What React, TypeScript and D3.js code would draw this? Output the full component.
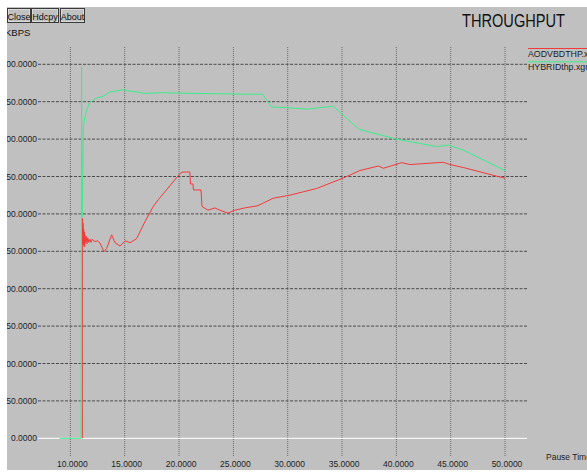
import React from 'react';
import * as d3 from 'd3';

// pause time (x) vs throughput in KBPS (y)
const hybridThp: [number, number][] = [
  [9.0, 0], [10.98, 0], [11.03, 497], [11.07, 296], [11.12, 330], [11.19, 416],
  [11.34, 430], [11.5, 439], [11.8, 449], [12.1, 452], [12.4, 455], [13.0, 457],
  [13.6, 463], [14.1, 464], [14.8, 466], [15.5, 464], [16.1, 463], [16.9, 461],
  [18.3, 462], [21.9, 461], [26.5, 460], [27.7, 460], [28.5, 443], [30.0, 442],
  [31.8, 440], [34.2, 444], [35.1, 432], [36.6, 413], [40.0, 400], [43.7, 390],
  [44.8, 392], [46.2, 385], [50.0, 358],
];

const aodvThp: [number, number][] = [
  [11.1, 0], [11.1, 294], [11.13, 262], [11.16, 288], [11.19, 258], [11.22, 280],
  [11.25, 262], [11.28, 276], [11.31, 256], [11.34, 272], [11.4, 262], [11.46, 270],
  [11.52, 260], [11.6, 268], [11.7, 262], [11.8, 266], [11.9, 262], [12.0, 266],
  [12.26, 263], [12.5, 264], [12.72, 261], [13.09, 249.5], [13.34, 254], [13.8, 272],
  [14.1, 261.5], [14.57, 257], [15.03, 264], [15.49, 261.5], [16.1, 267], [16.87, 290],
  [17.63, 310], [18.09, 319], [20.09, 354], [20.36, 356], [21.0, 356], [21.05, 340],
  [21.28, 340], [21.33, 332], [22.02, 332], [22.11, 310], [22.66, 305], [23.3, 308],
  [23.76, 305], [24.5, 301], [25.14, 305], [26.06, 308], [27.26, 311], [28.67, 321],
  [30.2, 325], [32.67, 334], [35.12, 348], [36.65, 358], [38.34, 364], [38.8, 361],
  [40.49, 368.5], [41.26, 366], [44.32, 369], [44.94, 366], [46.16, 362], [50.0, 347.6],
];

const xTicks = [10, 15, 20, 25, 30, 35, 40, 45, 50];
const yTicks = [0, 50, 100, 150, 200, 250, 300, 350, 400, 450, 500];
const buttons = ['Close', 'Hdcpy', 'About'];
const legend = [
  { name: 'AODVBDTHP.xg', color: '#f23a3a' },
  { name: 'HYBRIDthp.xgr', color: '#3bee8a' },
];

const W = 587;
const H = 472;
const font = '"Liberation Sans", Arial, sans-serif';

export default function App() {
  const x = d3.scaleLinear().domain([10, 50]).range([70.4, 505]);
  const y = d3.scaleLinear().domain([0, 500]).range([438.3, 64.3]);
  const line = d3.line<[number, number]>().x((d) => x(d[0])).y((d) => y(d[1]));
  const fmt = (v: number) => v.toFixed(4);

  const btnX = [7, 31, 60];
  const btnW = [23, 27, 24];

  return (
    <svg width={W} height={H} style={{ position: 'absolute', left: 0, top: 0, background: '#fff' }}>
      <defs>
        <clipPath id="win">
          <rect x={7} y={7} width={W - 7} height={463} />
        </clipPath>
      </defs>
      <g clipPath="url(#win)" fontFamily={font}>
        <rect x={7} y={7} width={W - 7} height={463} fill="#c0c0c0" />

        {/* buttons */}
        {buttons.map((b, i) => (
          <g key={b}>
            <rect x={btnX[i] + 0.5} y={8.5} width={btnW[i]} height={14} fill="#c0c0c0" stroke="#3a3a3a" />
            <rect x={btnX[i] + 1.5} y={9.5} width={btnW[i] - 2} height={12} fill="none" stroke="#e8e8e8" strokeWidth={0.6} />
            <text x={btnX[i] + btnW[i] / 2 + 0.5} y={19.5} fontSize={9} textAnchor="middle" fill="#111">{b}</text>
          </g>
        ))}

        <text x={5} y={36} fontSize={9.5} fill="#111">KBPS</text>
        <text x={462} y={27} fontSize={18} fill="#111" textLength={103} lengthAdjust="spacingAndGlyphs">THROUGHPUT</text>

        {/* vertical grid */}
        {xTicks.map((t) => (
          <line key={'vx' + t} x1={x(t)} x2={x(t)} y1={47} y2={457} stroke="#6a6a6a" strokeDasharray="1,1" strokeWidth={1} />
        ))}
        {/* horizontal grid, the zero line is white */}
        {yTicks.map((t) =>
          t === 0 ? (
            <line key={'hy' + t} x1={38} x2={527} y1={y(t)} y2={y(t)} stroke="#f4f4f4" strokeWidth={1.2} />
          ) : (
            <line key={'hy' + t} x1={38} x2={527} y1={y(t)} y2={y(t)} stroke="#4a4a4a" strokeDasharray="3,1.5" strokeWidth={1} />
          )
        )}

        {yTicks.map((t) => (
          <text key={'ly' + t} x={37} y={y(t) + 3} fontSize={8.5} textAnchor="end" fill="#222">{fmt(t)}</text>
        ))}
        {xTicks.map((t) => (
          <text key={'lx' + t} x={x(t) + 2} y={467} fontSize={8.5} textAnchor="middle" fill="#222">{fmt(t)}</text>
        ))}
        <text x={546} y={460} fontSize={8.5} fill="#222">Pause Time</text>

        <path d={line(aodvThp) ?? ''} fill="none" stroke={legend[0].color} strokeWidth={1} />
        <path d={line(hybridThp) ?? ''} fill="none" stroke={legend[1].color} strokeWidth={1} />

        {legend.map((l, i) => (
          <g key={l.name}>
            <line x1={528} x2={W} y1={48.5 + i * 13.3} y2={48.5 + i * 13.3} stroke={l.color} strokeWidth={1} />
            <text x={528} y={57 + i * 13.3} fontSize={8.8} fill="#222">{l.name}</text>
          </g>
        ))}
      </g>
    </svg>
  );
}
